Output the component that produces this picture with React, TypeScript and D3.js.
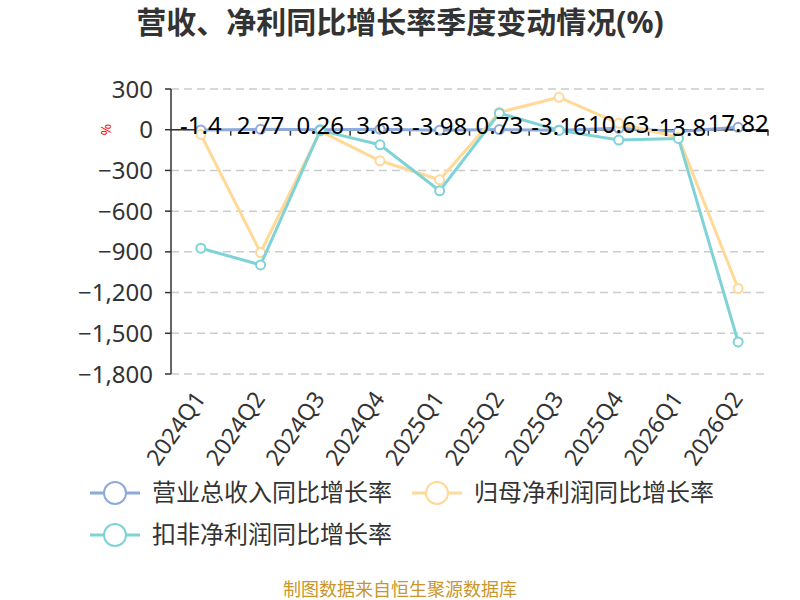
// @ts-nocheck
import * as d3 from "d3";

const categories = ["2024Q1", "2024Q2", "2024Q3", "2024Q4", "2025Q1", "2025Q2", "2025Q3", "2025Q4", "2026Q1", "2026Q2"];
const revenueGrowth = [-1.4, 2.77, 0.26, 3.63, -3.98, 0.73, -3.16, 10.63, -13.8, 17.82];
const netProfitGrowth = [-35, -905, -10, -229, -369, 128, 239, 47, -55, -1170];
const deductedProfitGrowth = [-873, -996, -5, -111, -450, 122, -5, -76, -64, -1564];
const yTicks = [300, 0, -300, -600, -900, -1200, -1500, -1800];

const series = [
  { name: "营业总收入同比增长率", values: revenueGrowth, color: "#8eaadb" },
  { name: "归母净利润同比增长率", values: netProfitGrowth, color: "#ffd997" },
  { name: "扣非净利润同比增长率", values: deductedProfitGrowth, color: "#7fd3d6" },
];

const W = 800;
const H = 600;
const left = 171;
const right = 768;
const top = 89;
const bottom = 374;
const font = "'Noto Sans', 'Noto Sans CJK SC', sans-serif";

export default function App() {
  const x = d3.scaleBand(categories, [left, right]);
  const bw = x.bandwidth();
  const cx = (c) => x(c) + bw / 2;
  const y = d3.scaleLinear([-1800, 300], [bottom, top]);
  const line = d3.line<number>().x((_, i) => cx(categories[i])).y((v) => y(v));

  const legendPos = [
    { x: 90, y: 493 },
    { x: 412, y: 493 },
    { x: 90, y: 535 },
  ];

  return (
    <div style={{ position: "absolute", left: 0, top: 0 }}>
      <svg width={W} height={H} style={{ fontFamily: font, display: "block" }}>
        <rect width={W} height={H} fill="#fff" />
        <text x={400} y={33} textAnchor="middle" fontSize={30} fontWeight="bold" fill="#333">
          营收、净利同比增长率季度变动情况(%)
        </text>

        {/* grid */}
        {yTicks.map((t) => (
          <line key={"g" + t} x1={left} x2={right} y1={y(t)} y2={y(t)} stroke="#ccc" strokeWidth={1.5} strokeDasharray="8,5" />
        ))}

        {/* y axis */}
        <line x1={left} x2={left} y1={y(300)} y2={y(-1800)} stroke="#333" strokeWidth={1.5} />
        {yTicks.map((t) => (
          <g key={"t" + t}>
            <line x1={left - 6} x2={left} y1={y(t)} y2={y(t)} stroke="#333" strokeWidth={1.5} />
            <text x={left - 18} y={y(t)} dy="0.36em" textAnchor="end" fontSize={24} fill="#333">
              {d3.format(",")(t)}
            </text>
          </g>
        ))}
        <text transform={`translate(106,${y(0)}) rotate(-90)`} textAnchor="middle" dy="0.35em" fontSize={14} fill="red">
          %
        </text>

        {/* x axis at zero */}
        <line x1={left} x2={right} y1={y(0)} y2={y(0)} stroke="#333" strokeWidth={1.5} />
        {categories.map((c) => (
          <line key={"xt" + c} x1={x(c) + bw} x2={x(c) + bw} y1={y(0)} y2={y(0) + 6} stroke="#333" strokeWidth={1.5} />
        ))}
        {categories.map((c) => (
          <text
            key={"xl" + c}
            transform={`translate(${cx(c) - 1},${bottom + 20}) rotate(-55)`}
            textAnchor="end"
            dy="0.35em"
            fontSize={23}
            fill="#333"
          >
            {c}
          </text>
        ))}

        {/* series */}
        {series.map((s) => (
          <g key={s.name}>
            <path d={line(s.values)} fill="none" stroke={s.color} strokeWidth={3} strokeLinejoin="round" />
            {s.values.map((v, i) => (
              <circle key={i} cx={cx(categories[i])} cy={y(v)} r={4.5} fill="#fff" stroke={s.color} strokeWidth={2} />
            ))}
          </g>
        ))}

        {/* revenue labels */}
        {revenueGrowth.map((v, i) => (
          <text key={"rl" + i} x={cx(categories[i])} y={y(v) - 4} dy="0.35em" textAnchor="middle" fontSize={24} fill="#000">
            {v}
          </text>
        ))}

        {/* legend */}
        {series.map((s, i) => {
          const p = legendPos[i];
          return (
            <g key={"lg" + s.name} transform={`translate(${p.x},${p.y})`}>
              <line x1={0} x2={50} y1={0} y2={0} stroke={s.color} strokeWidth={3} />
              <circle cx={25} cy={0} r={11} fill="#fff" stroke={s.color} strokeWidth={2} />
              <text x={62} y={0} dy="0.35em" fontSize={24} fill="#333">
                {s.name}
              </text>
            </g>
          );
        })}

        <text x={400} y={596} textAnchor="middle" fontSize={18} fill="#c9962b">
          制图数据来自恒生聚源数据库
        </text>
      </svg>
    </div>
  );
}
